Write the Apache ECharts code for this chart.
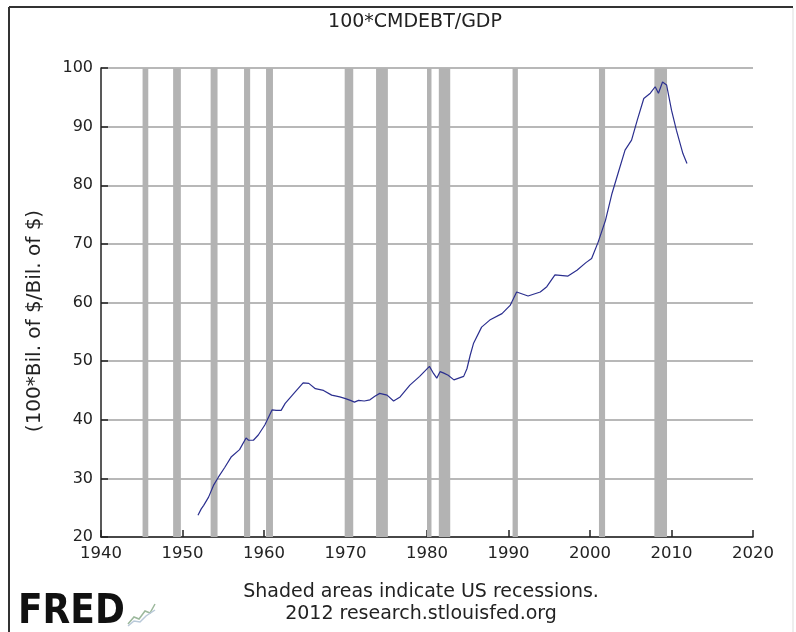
<!DOCTYPE html>
<html>
<head>
<meta charset="utf-8">
<script src="https://cdn.jsdelivr.net/npm/echarts@6/dist/echarts.min.js"></script>
<style>
html,body{margin:0;padding:0;background:#fff;}
#chart{width:796px;height:632px;}
</style>
</head>
<body>
<div id="chart"></div>
<script>
const years = [1951.9,1952.3,1952.6,1953.2,1953.8,1954.4,1955.2,1956.0,1957.0,1957.8,1958.1,1958.7,1959.3,1960.1,1961.0,1961.5,1962.1,1962.6,1963.8,1964.8,1965.5,1966.3,1967.3,1968.3,1969.3,1970.0,1970.6,1971.1,1971.6,1972.3,1973.0,1973.6,1974.2,1975.1,1975.9,1976.7,1977.9,1979.1,1980.3,1980.8,1981.2,1981.6,1982.0,1982.6,1983.3,1984.5,1984.9,1985.3,1985.7,1986.7,1987.7,1989.2,1990.2,1991.0,1992.4,1993.9,1994.7,1995.7,1997.3,1998.4,1999.5,2000.2,2001.0,2001.9,2002.7,2003.5,2004.3,2005.1,2005.8,2006.6,2007.4,2008.0,2008.4,2008.9,2009.4,2010.0,2010.6,2011.4,2011.9];
const values = [23.7,24.8,25.4,26.8,28.8,30.2,31.9,33.7,34.9,36.9,36.5,36.5,37.4,39.1,41.7,41.6,41.6,42.8,44.7,46.3,46.2,45.3,45.0,44.2,43.9,43.6,43.3,43.0,43.3,43.2,43.4,44.0,44.5,44.2,43.2,43.9,45.9,47.4,49.1,47.9,47.1,48.2,48.0,47.6,46.8,47.4,48.7,51.0,53.0,55.8,57.0,58.1,59.5,61.8,61.1,61.8,62.7,64.7,64.5,65.5,66.8,67.5,70.3,74.0,78.6,82.3,86.0,87.7,91.1,94.8,95.7,96.8,95.7,97.6,97.1,92.8,89.4,85.4,83.7];
// US recessions (start, end) in decimal years
const recessionStart = [1945.1,1948.85,1953.45,1957.55,1960.25,1969.9,1973.75,1980.0,1981.45,1990.5,2001.1,2007.9];
const recessionEnd   = [1945.8,1949.8,1954.3,1958.3,1961.1,1970.95,1975.2,1980.55,1982.85,1991.15,2001.85,2009.45];
// Axis ticks
const xTicks = [1940,1950,1960,1970,1980,1990,2000,2010,2020];
const yTicks = [20,30,40,50,60,70,80,90,100];

const titleText = '100*CMDEBT/GDP';
const yName = '(100*Bil. of $/Bil. of $)';
const note1 = 'Shaded areas indicate US recessions.';
const note2 = '2012 research.stlouisfed.org';

const chart = echarts.init(document.getElementById('chart'), null, {renderer:'canvas'});
const FONT = 'DejaVu Sans';
const lineData = years.map((y,i)=>[y, values[i]]);
const areas = recessionStart.map((s,i)=>[{xAxis:s},{xAxis:recessionEnd[i]}]);

chart.setOption({
  animation:false,
  backgroundColor:'#fff',
  grid:{left:101, right:43, top:68, bottom:95, containLabel:false},
  xAxis:{
    type:'value', min:xTicks[0], max:xTicks[xTicks.length-1], interval:10,
    axisLine:{show:true, lineStyle:{color:'#222', width:1.5}},
    axisTick:{show:true, inside:true, length:7, lineStyle:{color:'#222', width:1.5}},
    axisLabel:{color:'#222', fontFamily:FONT, fontSize:16.5, margin:8, formatter:v=>String(v)},
    splitLine:{show:false}
  },
  yAxis:{
    type:'value', min:yTicks[0], max:yTicks[yTicks.length-1], interval:10,
    axisLine:{show:true, lineStyle:{color:'#222', width:1.5}},
    axisTick:{show:true, inside:true, length:7, lineStyle:{color:'#222', width:1.5}},
    axisLabel:{color:'#222', fontFamily:FONT, fontSize:16, margin:8},
    splitLine:{show:true, lineStyle:{color:'#b8b8b8', width:2}}
  },
  series:[
    {
      type:'line', data:lineData, showSymbol:false, symbol:'none',
      lineStyle:{color:'#2b2f8f', width:1.2},
      z:5,
      markArea:{
        silent:true,
        itemStyle:{color:'#b3b3b3', opacity:1},
        data:areas
      }
    }
  ],
  graphic:[
    {type:'line', shape:{x1:9,y1:7,x2:9,y2:632}, style:{stroke:'#333', lineWidth:2}},
    {type:'line', shape:{x1:9,y1:7,x2:793,y2:7}, style:{stroke:'#333', lineWidth:2}},
    {type:'line', shape:{x1:793,y1:8,x2:793,y2:632}, style:{stroke:'#ddd', lineWidth:1}},
    {type:'text', x:415, y:22, style:{text:titleText, font:'19px "DejaVu Sans"', fill:'#222', textAlign:'center', textVerticalAlign:'middle'}},
    {type:'text', x:35, y:321, rotation:Math.PI/2, style:{text:yName, font:'20px "DejaVu Sans"', fill:'#222', textAlign:'center', textVerticalAlign:'middle'}},
    {type:'text', x:421, y:592, style:{text:note1, font:'19px "DejaVu Sans"', fill:'#222', textAlign:'center', textVerticalAlign:'middle'}},
    {type:'text', x:421, y:614, style:{text:note2, font:'19px "DejaVu Sans"', fill:'#222', textAlign:'center', textVerticalAlign:'middle'}},
    {type:'text', x:18, y:613, scaleX:0.9, style:{text:'FRED', font:'bold 40px "DejaVu Sans"', fill:'#111', textAlign:'left', textVerticalAlign:'middle'}},
    {type:'polyline', shape:{points:[[128,624],[134,617],[139,619],[145,611],[150,613],[155,604]]}, style:{stroke:'#9cb89c', lineWidth:1.5, fill:null}},
    {type:'polyline', shape:{points:[[128,626],[134,621],[140,622],[146,616],[155,610]]}, style:{stroke:'#b9c9d9', lineWidth:1.5, fill:null}}
  ]
});
</script>
</body>
</html>
